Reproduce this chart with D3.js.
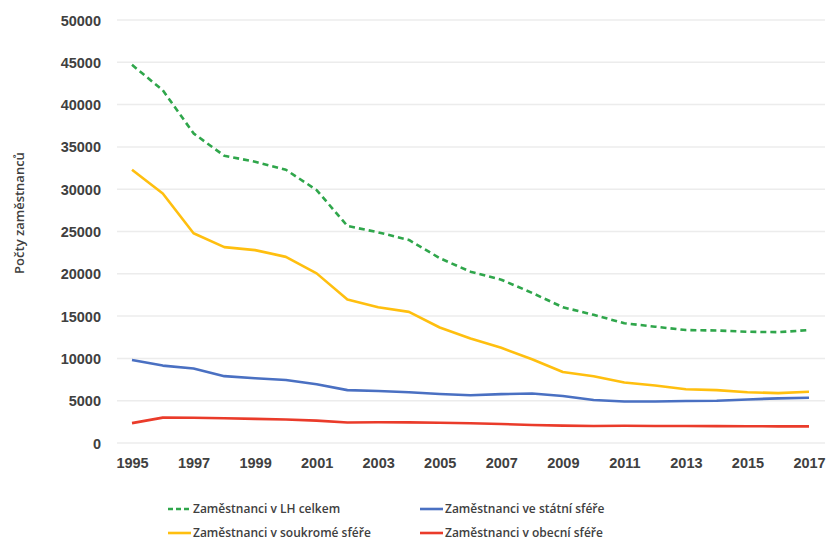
<!DOCTYPE html>
<html>
<head>
<meta charset="utf-8">
<script src="https://cdn.jsdelivr.net/npm/d3@7"></script>
<style>
  body { margin: 0; background: #fff; }
  svg { display: block; font-family: "Open Sans", sans-serif; }
  .tick text { fill: #404040; font-weight: 600; }
</style>
</head>
<body>
<svg></svg>
<script>
// data
var years = d3.range(1995, 2018);
var yTicks = [0, 5000, 10000, 15000, 20000, 25000, 30000, 35000, 40000, 45000, 50000];
var celkem = [44700, 41700, 36600, 33950, 33250, 32300, 29900, 25650, 24900, 24000, 21850,
              20250, 19300, 17750, 16050, 15150, 14150, 13750, 13350, 13300, 13150, 13100, 13350];
var soukrome = [32300, 29500, 24800, 23150, 22800, 22000, 20050, 16950, 16050, 15500, 13650,
                12350, 11250, 9900, 8400, 7900, 7150, 6800, 6350, 6250, 6000, 5900, 6050];
var statni = [9800, 9150, 8800, 7900, 7650, 7450, 6950, 6250, 6150, 6000, 5800,
              5650, 5780, 5850, 5550, 5080, 4900, 4900, 4960, 5000, 5150, 5280, 5350];
var obecni = [2350, 3000, 2980, 2930, 2850, 2780, 2650, 2420, 2450, 2440, 2400,
              2330, 2250, 2130, 2050, 2010, 2040, 2010, 2010, 2000, 1980, 1970, 1970];
var seriesNames = ['Zaměstnanci v LH celkem', 'Zaměstnanci ve státní sféře',
                   'Zaměstnanci v soukromé sféře', 'Zaměstnanci v obecní sféře'];
var seriesColors = ['#2fa64b', '#4a70c2', '#ffbf0f', '#ea3b2a'];

var width = 826, height = 544;
var svg = d3.select('svg').attr('width', width).attr('height', height);

var x = d3.scalePoint().domain(years).range([132, 809]);
var y = d3.scaleLinear().domain([0, 50000]).range([443, 20]);

// grid
svg.append('g')
   .selectAll('line')
   .data(yTicks)
   .enter().append('line')
     .attr('x1', 117).attr('x2', 825)
     .attr('y1', d => y(d)).attr('y2', d => y(d))
     .attr('stroke', '#ececec').attr('stroke-width', 1.5);

// axes
var yAxis = svg.append('g')
   .attr('transform', 'translate(101,0)')
   .call(d3.axisLeft(y).tickValues(yTicks).tickSize(0).tickPadding(0).tickFormat(d3.format('d')));
yAxis.select('.domain').remove();
yAxis.selectAll('text').attr('font-size', 14.5).attr('dy', '0.35em');

var xAxis = svg.append('g')
   .attr('transform', 'translate(0,458)')
   .call(d3.axisBottom(x).tickValues(years.filter(d => d % 2 === 1)).tickSize(0).tickPadding(0).tickFormat(d3.format('d')));
xAxis.select('.domain').remove();
xAxis.selectAll('text').attr('font-size', 14.5);

svg.append('text')
   .attr('transform', 'translate(24,213) rotate(-90)')
   .attr('text-anchor', 'middle')
   .attr('font-size', 13)
   .attr('font-weight', 600)
   .attr('fill', '#404040')
   .text('Počty zaměstnanců');

// lines
var line = d3.line().x((d, i) => x(years[i])).y(d => y(d));
var allSeries = [celkem, statni, soukrome, obecni];
svg.append('g')
   .selectAll('path')
   .data(allSeries)
   .enter().append('path')
     .attr('d', line)
     .attr('fill', 'none')
     .attr('stroke', (d, i) => seriesColors[i])
     .attr('stroke-width', 2.6)
     .attr('stroke-linejoin', 'round')
     .attr('stroke-dasharray', (d, i) => i === 0 ? '6,4' : null);

// legend
var legend = svg.append('g')
   .selectAll('g')
   .data(seriesNames)
   .enter().append('g')
     .attr('transform', (d, i) => `translate(${i % 2 === 0 ? 168 : 420},${i < 2 ? 509 : 533})`);
legend.append('line')
   .attr('x1', 0).attr('x2', 23)
   .attr('stroke', (d, i) => seriesColors[i])
   .attr('stroke-width', 2.6)
   .attr('stroke-dasharray', (d, i) => i === 0 ? '5,3' : null);
legend.append('text')
   .attr('x', 25)
   .attr('dy', '0.35em')
   .attr('font-size', 12)
   .attr('font-weight', 600)
   .attr('fill', '#404040')
   .text(d => d);
</script>
</body>
</html>
